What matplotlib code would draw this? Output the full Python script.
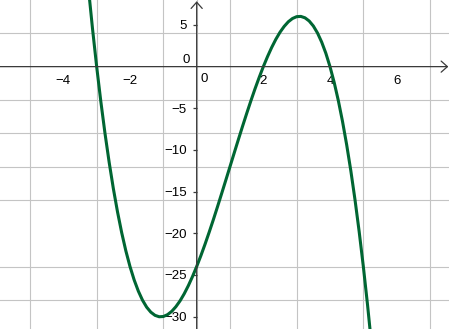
import matplotlib
matplotlib.use('Agg')
from matplotlib import pyplot as plt

# curve points (x, y)
xs = [-3.5, -3.375, -3.25, -3.125, -3.0, -2.875, -2.75, -2.625, -2.5,
      -2.375, -2.25, -2.125, -2.0, -1.875, -1.75, -1.625, -1.5, -1.375,
      -1.25, -1.125, -1.0, -0.875, -0.75, -0.625, -0.5, -0.375, -0.25,
      -0.125, 0.0, 0.125, 0.25, 0.375, 0.5, 0.625, 0.75, 0.875, 1.0,
      1.125, 1.25, 1.375, 1.5, 1.625, 1.75, 1.875, 2.0, 2.125, 2.25,
      2.375, 2.5, 2.625, 2.75, 2.875, 3.0, 3.125, 3.25, 3.375, 3.5,
      3.625, 3.75, 3.875, 4.0, 4.125, 4.25, 4.375, 4.5, 4.625, 4.75,
      4.875, 5.0, 5.125, 5.25]
ys = [20.63, 14.87, 9.52, 4.57, 0.0, -4.19, -8.02, -11.49, -14.63,
      -17.43, -19.92, -22.11, -24.0, -25.61, -26.95, -28.04, -28.88, -29.48,
      -29.86, -30.03, -30.0, -29.78, -29.39, -28.83, -28.13, -27.28, -26.30,
      -25.20, -24.0, -22.71, -21.33, -19.88, -18.38, -16.82, -15.23, -13.62,
      -12.0, -10.38, -8.77, -7.18, -5.63, -4.12, -2.67, -1.30, 0.0, 1.20,
      2.30, 3.28, 4.13, 4.83, 5.39, 5.78, 6.0, 6.03, 5.86, 5.48, 4.88,
      4.04, 2.95, 1.61, 0.0, -1.89, -4.08, -6.57, -9.38, -12.51, -15.98,
      -19.81, -24.0, -28.56, -33.52]

x_ticks = [-4, -2, 2, 4, 6]
y_ticks = [5, -5, -10, -15, -20, -25, -30]
x_grid = list(range(-5, 8))
y_grid = [4, -4, -8, -12, -16, -20, -24, -28]

xmin, xmax = -5.9, 7.57
ymin, ymax = -31.5, 8.0

axis_col = '#3a3a3a'
grid_col = '#c4c4c4'
curve_col = '#006633'
font = 'Liberation Sans'

fig = plt.figure(figsize=(4.49, 3.29), dpi=100)
ax = fig.add_axes([0, 0, 1, 1])
ax.set_xlim(xmin, xmax)
ax.set_ylim(ymin, ymax)

# grid on minor ticks, labels on major ticks
ax.set_xticks(x_grid, minor=True)
ax.set_yticks(y_grid, minor=True)
ax.grid(which='minor', color=grid_col, lw=0.8)
ax.tick_params(which='minor', length=0)

for s in ax.spines.values():
    s.set_visible(False)
ax.spines['left'].set_position(('data', 0))
ax.spines['bottom'].set_position(('data', 0))

ax.set_xticks(x_ticks)
ax.set_xticklabels([str(t).replace('-', '\u2212') for t in x_ticks])
ax.set_yticks(y_ticks)
ax.set_yticklabels([str(t).replace('-', '\u2212') for t in y_ticks])
ax.tick_params(axis='x', length=0, pad=6, labelsize=9.5, colors=axis_col)
ax.tick_params(axis='y', length=3, width=0.9, pad=4, labelsize=9.5,
               colors=axis_col, direction='out')
for lab in ax.get_xticklabels() + ax.get_yticklabels():
    lab.set_fontfamily(font)
    lab.set_color('black')

# axes with arrow heads
arrow = dict(arrowstyle='->,head_length=0.45,head_width=0.4', color=axis_col,
             lw=0.9, shrinkA=0, shrinkB=0)
ax.annotate('', xy=(xmax - 0.02, 0), xytext=(xmin, 0), arrowprops=arrow)
ax.annotate('', xy=(0, ymax - 0.15), xytext=(0, ymin), arrowprops=arrow)

# origin labels
ax.text(-0.2, 0.75, '0', ha='right', va='center', fontsize=9.5, family=font)
ax.text(0.23, -1.45, '0', ha='center', va='center', fontsize=9.5, family=font)

ax.plot(xs, ys, color=curve_col, lw=2.2, solid_capstyle='round')

fig.savefig('out.png', dpi=100)
